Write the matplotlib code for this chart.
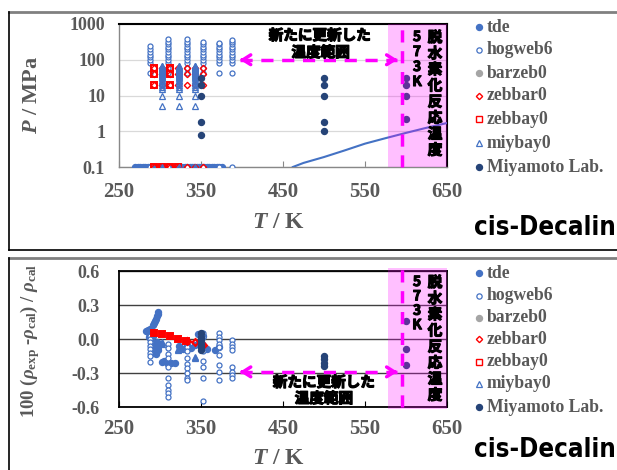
import matplotlib
matplotlib.use('Agg')
import matplotlib.pyplot as plt
from matplotlib.lines import Line2D
from matplotlib.patches import Rectangle
import matplotlib.patheffects as pe
import matplotlib.ticker as mticker
import matplotlib.transforms as mtrans
from matplotlib.font_manager import FontProperties

plt.rcParams['mathtext.fontset'] = 'custom'
plt.rcParams['mathtext.rm'] = 'Liberation Serif:bold'
plt.rcParams['mathtext.it'] = 'Liberation Serif:italic:bold'
plt.rcParams['mathtext.bf'] = 'Liberation Serif:bold'

# ---------------- data: top panel (T / K, P / MPa) ----------------
tde_T_top = [270, 273, 276, 279, 282, 285, 288, 291, 294, 297, 300, 303, 306, 309,
             312, 315, 318, 321, 324, 327, 330, 333, 336, 339, 342, 345, 348, 351,
             354, 357, 360, 363, 366, 369, 372, 375]
tde_P_top = [0.1] * len(tde_T_top)

hog_cols_T = [288, 310, 333, 352, 372, 388]
hog_cols_P = [
    [0.1, 42, 80, 100, 120, 140, 170, 200, 240],
    [0.1, 42, 60, 80, 100, 120, 140, 170, 195, 230, 275, 320, 370],
    [0.1, 42, 60, 80, 100, 120, 140, 170, 195, 230, 275, 320, 370],
    [0.1, 42, 60, 80, 100, 120, 140, 170, 195, 230, 275, 320],
    [0.1, 42, 80, 100, 120, 140, 170, 195, 230, 275, 300],
    [0.1, 42, 80, 100, 120, 140, 170, 195, 230, 275, 320, 350],
]
zebbar_cols_T = [293, 303, 312, 322, 333, 343, 353]
zebbar_P = [0.1, 20, 40, 60]
zebbay_cols_T = [293, 303, 312, 322]
zebbay_cols_P = [[0.1, 20, 40, 60], [0.1], [0.1, 20, 40, 60], [0.1]]
miy_cols_T = [303, 323, 343]
miy_P = [0.1, 5, 10, 15, 17.5, 20, 22.5, 25, 27.5, 30, 32.5, 35, 37.5, 40, 42.5,
         45, 47.5, 50, 52.5, 55, 57.5, 60, 62.5, 65, 67.5]
lab_T_top = [350, 350, 350, 350, 350, 500, 500, 500, 500, 500, 600, 600, 600, 600]
lab_P_top = [30, 20, 10, 1.8, 0.8, 30, 20, 10, 1.8, 1.0, 30, 20, 10, 2.2]
vap_T = [462, 475, 500, 525, 550, 575, 600, 625, 650]
vap_P = [0.1, 0.13, 0.19, 0.29, 0.45, 0.64, 0.9, 1.25, 1.7]

# ---------------- data: bottom panel (T / K, deviation / %) ----------------
tde_T_bot = [283, 285, 286, 287, 288, 289, 289, 290, 290, 291, 291, 292, 292, 293,
             293, 294, 294, 295, 295, 296, 296, 297, 297, 298, 298, 300, 303, 305,
             308, 310, 313, 318, 323, 328, 333, 338, 343, 346, 348, 353, 355, 357,
             367, 372]
tde_D_bot = [0.07, 0.08, 0.05, 0.02, 0.09, 0.0, -0.05, 0.06, -0.08, -0.1, 0.12,
             0.03, -0.12, 0.14, -0.06, 0.16, -0.09, 0.18, -0.13, 0.2, -0.03, 0.22,
             -0.07, 0.24, -0.1, -0.04, -0.2, -0.19, -0.2, -0.22, -0.21, -0.21,
             -0.06, -0.09, -0.05, -0.08, -0.05, 0.04, -0.03, 0.03, -0.08, -0.09,
             -0.1, -0.07]
hog_D_cols = [
    [0.03, 0.0, -0.03, -0.06, -0.09, -0.12, -0.15, -0.2],
    [-0.04, -0.08, -0.13, -0.17, -0.25, -0.34, -0.41, -0.45, -0.48, -0.51],
    [-0.03, -0.07, -0.11, -0.17, -0.22, -0.26, -0.3, -0.34, -0.36],
    [0.05, 0.02, -0.04, -0.11, -0.19, -0.25, -0.34, -0.55],
    [0.05, 0.02, -0.01, -0.04, -0.07, -0.14, -0.23, -0.29, -0.36],
    [-0.01, -0.04, -0.07, -0.1, -0.25, -0.29, -0.32, -0.34],
]
zebbay_T_bot = [293, 302, 312, 322, 332]
zebbay_D_bot = [0.05, 0.04, 0.03, 0.0, -0.02]
zebbar_T_bot = [333, 343, 353]
zebbar_D_bot = [-0.02, -0.03, -0.055]
miy_T_bot = [303, 303, 322, 322, 343, 343]
miy_D_bot = [-0.03, -0.04, -0.09, -0.1, -0.16, -0.17]
lab_T_bot = [350, 350, 350, 350, 350, 350, 500, 500, 500, 500, 600, 600, 600]
lab_D_bot = [0.05, 0.02, -0.01, -0.04, -0.07, -0.1, -0.15, -0.18, -0.21, -0.24,
             0.16, -0.09, -0.23]

legend_names = ['tde', 'hogweb6', 'barzeb0', 'zebbar0', 'zebbay0', 'miybay0', 'Miyamoto Lab.']

BLUE = '#4472C4'
NAVY = '#264478'
RED = '#FF0000'
GRAY = '#A5A5A5'
TXT = '#595959'
MAG = '#FF00FF'

W, H = 617, 470
fig = plt.figure(figsize=(6.17, 4.70), dpi=100)


def fx(x):
    return x / W


def fy(y):
    return 1 - y / H


def axes_px(x0, y0, x1, y1):
    return fig.add_axes([fx(x0), fy(y1), fx(x1) - fx(x0), fy(y0) - fy(y1)])


serif_bold = dict(family='Liberation Serif', weight='bold', color=TXT)
cjk = ['Noto Sans CJK JP', 'DejaVu Sans']
thick = [pe.withStroke(linewidth=0.9, foreground='black')]
thin_thick = [pe.withStroke(linewidth=0.8, foreground='black')]

# ---- frames ----
fig.add_artist(Line2D([fx(9), 1.0], [fy(12), fy(12)], color='#808080', lw=2, transform=fig.transFigure))
fig.add_artist(Line2D([fx(9), fx(9)], [fy(12), fy(250)], color='black', lw=1.2, transform=fig.transFigure))
fig.add_artist(Line2D([fx(9), 1.0], [fy(250), fy(250)], color='black', lw=1.2, transform=fig.transFigure))
fig.add_artist(Line2D([fx(9), 1.0], [fy(258), fy(258)], color='#808080', lw=2, transform=fig.transFigure))
fig.add_artist(Line2D([fx(9), fx(9)], [fy(258), 0.0], color='black', lw=1.2, transform=fig.transFigure))

ms_f = 4.3
ms_o = 3.6


def draw_points(ax, tde, hog, zbar, zbay, miy, lab, solid=False):
    ax.plot(*tde, ls='none', marker='o', ms=ms_f, mfc=BLUE, mec=BLUE, zorder=3)
    ax.plot(*hog, ls='none', marker='o', ms=ms_o, mfc='white', mec=BLUE, mew=0.9, zorder=3)
    ax.plot(*zbar, ls='none', marker='D', ms=3.4 if solid else 3.2, mfc='none', mec=RED,
            mew=1.6 if solid else 1.0, zorder=4)
    ax.plot(*zbay, ls='none', marker='s', ms=5.0 if solid else 4.0,
            mfc=RED if solid else 'none', mec=RED, mew=1.4, zorder=4)
    ax.plot(*miy, ls='none', marker='^', ms=4.5 if solid else 3.8,
            mfc=BLUE if solid else 'none', mec=BLUE, mew=0.9, zorder=4)
    ax.plot(*lab, ls='none', marker='o', ms=ms_f, mfc=NAVY, mec=NAVY, zorder=5)


def common_x(ax, pad, color):
    ax.set_xlim(250, 650)
    ax.set_xticks([250, 350, 450, 550, 650])
    ax.tick_params(axis='x', direction='in', length=4, width=0.8, color=color, pad=pad)
    for lab in ax.get_xticklabels():
        lab.set_fontproperties(FontProperties(family='Liberation Serif', weight='bold', size=15))
        lab.set_color(TXT)


def pink_and_line(ax, y_lo, y_hi, line_lo, line_hi):
    tr = mtrans.blended_transform_factory(ax.transData, ax.transAxes)
    ax.add_patch(Rectangle((578, y_lo), 72, y_hi - y_lo, transform=tr, facecolor=MAG,
                           alpha=0.25, edgecolor='none', clip_on=False, zorder=6))
    ax.add_line(Line2D([595, 595], [line_lo, line_hi], transform=tr, color=MAG, lw=2.5,
                       ls=(0, (3.5, 2.5)), clip_on=False, zorder=7))


def arrow(ax, y):
    ax.plot([398, 589], [y, y], color=MAG, lw=2.5, ls=(0, (3.5, 2.5)), zorder=7)
    ax.annotate('', xy=(394, y), xytext=(405, y),
                arrowprops=dict(arrowstyle='->,head_length=0.55,head_width=0.35', color=MAG, lw=2.5),
                zorder=7)
    ax.annotate('', xy=(593, y), xytext=(582, y),
                arrowprops=dict(arrowstyle='->,head_length=0.55,head_width=0.35', color=MAG, lw=2.5),
                zorder=7)


def vertical_texts(y_573, step_573, y_dhr, step_dhr):
    for i, ch in enumerate('573K'):
        fig.text(fx(417), fy(y_573 + i * step_573), ch, family=cjk, weight='bold', fontsize=10,
                 ha='center', va='center', color='black', zorder=10, path_effects=thin_thick)
    for i, ch in enumerate('脱水素化反応温度'):
        fig.text(fx(435), fy(y_dhr + i * step_dhr), ch, family=cjk, weight='bold', fontsize=10.5,
                 ha='center', va='center', color='black', zorder=10, path_effects=thick)


def legend(ys):
    styles = [
        dict(marker='o', ms=4.3, mfc=BLUE, mec=BLUE),
        dict(marker='o', ms=3.8, mfc='white', mec=BLUE, mew=0.9),
        dict(marker='o', ms=4.3, mfc=GRAY, mec=GRAY),
        dict(marker='D', ms=3.2, mfc='white', mec=RED, mew=1.0),
        dict(marker='s', ms=4.0, mfc='white', mec=RED, mew=1.0),
        dict(marker='^', ms=3.8, mfc='white', mec=BLUE, mew=0.9),
        dict(marker='o', ms=4.3, mfc=NAVY, mec=NAVY),
    ]
    for name, st, y in zip(legend_names, styles, ys):
        fig.add_artist(Line2D([fx(479)], [fy(y)], ls='none', transform=fig.transFigure, **st))
        fig.text(fx(487), fy(y), name, fontsize=12.7, ha='left', va='center', **serif_bold)


def cis_label(y):
    fig.text(fx(474), fy(y), 'cis-Decalin', family='DejaVu Sans', fontstretch='condensed',
             weight='bold', fontsize=18.5, ha='left', va='center', color='black')


# ================= top panel =================
ax1 = axes_px(119, 24, 447, 167)
ax1.set_yscale('log')
ax1.set_ylim(0.1, 1000)
ax1.set_yticks([0.1, 1, 10, 100, 1000])
ax1.yaxis.set_major_formatter(mticker.FuncFormatter(lambda v, p: '0.1' if v < 1 else f'{int(v)}'))
ax1.yaxis.set_minor_locator(mticker.NullLocator())
ax1.tick_params(axis='y', length=0, pad=10)
for lab in ax1.get_yticklabels():
    lab.set_fontproperties(FontProperties(family='Liberation Serif', weight='bold', size=13))
    lab.set_color(TXT)
common_x(ax1, 11, '#888888')
ax1.grid(axis='y', which='major', color='#D9D9D9', lw=0.9, zorder=0)
ax1.set_axisbelow(True)
for s in ['top', 'right']:
    ax1.spines[s].set_color('black')
    ax1.spines[s].set_linewidth(1.5)
for s in ['left', 'bottom']:
    ax1.spines[s].set_color('#888888')
    ax1.spines[s].set_linewidth(1.0)

hogT, hogP = [], []
for t, ps in zip(hog_cols_T, hog_cols_P):
    hogT += [t] * len(ps)
    hogP += ps
zbarT, zbarP = [], []
for t in zebbar_cols_T:
    zbarT += [t] * len(zebbar_P)
    zbarP += zebbar_P
zbayT, zbayP = [], []
for t, ps in zip(zebbay_cols_T, zebbay_cols_P):
    zbayT += [t] * len(ps)
    zbayP += ps
miyT, miyP = [], []
for t in miy_cols_T:
    miyT += [t] * len(miy_P)
    miyP += miy_P

draw_points(ax1, (tde_T_top, tde_P_top), (hogT, hogP), (zbarT, zbarP), (zbayT, zbayP),
            (miyT, miyP), (lab_T_top, lab_P_top))
ax1.plot(vap_T, vap_P, color=BLUE, lw=1.5, zorder=4)
pink_and_line(ax1, 0.0, 1.0, 0.0, 1.0)
arrow(ax1, 100)
tr1 = mtrans.blended_transform_factory(ax1.transData, ax1.transAxes)
ax1.text(495, 0.923, '新たに更新した', transform=tr1, family=cjk, weight='bold', fontsize=10.5,
         ha='center', va='center', path_effects=thick, zorder=9)
ax1.text(496, 0.804, '温度範囲', transform=tr1, family=cjk, weight='bold', fontsize=10.5,
         ha='center', va='center', path_effects=thick, zorder=9)
vertical_texts(37, 15, 37, 16.1)

fig.text(fx(32), fy(95), r'$P$ / MPa', rotation=90, ha='center', va='center', fontsize=16, **serif_bold)
fig.text(fx(278), fy(223), r'$T$ / K', ha='center', va='center', fontsize=17, **serif_bold)
legend([27, 50, 73, 96, 119, 143, 167])
cis_label(228)

# ================= bottom panel =================
ax2 = axes_px(119, 271, 447, 407)
ax2.set_ylim(-0.6, 0.6)
ax2.set_yticks([-0.6, -0.3, 0.0, 0.3, 0.6])
ax2.yaxis.set_major_formatter(mticker.FuncFormatter(lambda v, p: f'{v:.1f}'.replace('-0.0', '0.0')))
ax2.tick_params(axis='y', length=0, pad=14)
for lab in ax2.get_yticklabels():
    lab.set_fontproperties(FontProperties(family='Liberation Serif', weight='bold', size=13))
    lab.set_color(TXT)
common_x(ax2, 9, 'black')
ax2.grid(axis='y', color='#404040', lw=1.0, zorder=0)
ax2.set_axisbelow(True)
for s in ax2.spines.values():
    s.set_color('black')
    s.set_linewidth(1.3)

hogT2, hogD2 = [], []
for t, ds in zip(hog_cols_T, hog_D_cols):
    hogT2 += [t] * len(ds)
    hogD2 += ds
draw_points(ax2, (tde_T_bot, tde_D_bot), (hogT2, hogD2), (zebbar_T_bot, zebbar_D_bot),
            (zebbay_T_bot, zebbay_D_bot), (miy_T_bot, miy_D_bot), (lab_T_bot, lab_D_bot), solid=True)
pink_and_line(ax2, -0.015, 1.02, 0.0, 1.045)
arrow(ax2, -0.29)
tr2 = mtrans.blended_transform_factory(ax2.transData, ax2.transAxes)
ax2.text(500, 0.185, '新たに更新した', transform=tr2, family=cjk, weight='bold', fontsize=10.5,
         ha='center', va='center', path_effects=thick, zorder=9)
ax2.text(500, 0.066, '温度範囲', transform=tr2, family=cjk, weight='bold', fontsize=10.5,
         ha='center', va='center', path_effects=thick, zorder=9)
vertical_texts(282, 14.4, 282, 16.1)

fig.text(fx(30), fy(341), r'100 ($\rho_{\rm exp}$ -$\rho_{\rm cal}$) / $\rho_{\rm cal}$',
         rotation=90, ha='center', va='center', fontsize=13.5, **serif_bold)
fig.text(fx(278), fy(459), r'$T$ / K', ha='center', va='center', fontsize=17, **serif_bold)
legend([273, 296, 318, 339, 362, 384, 407])
cis_label(450)

fig.savefig('out.png', dpi=100)
